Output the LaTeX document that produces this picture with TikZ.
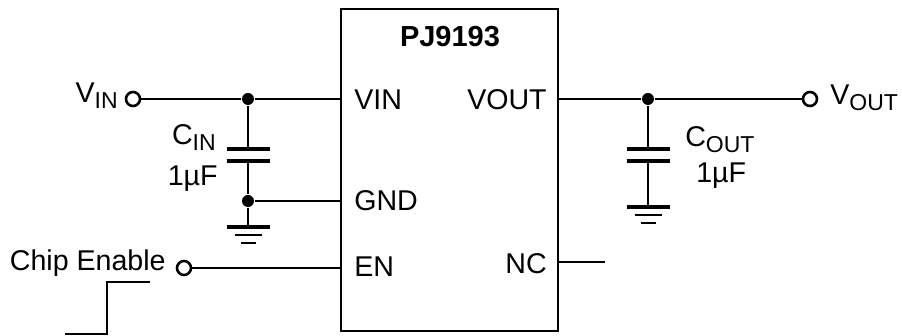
\documentclass[tikz,border=0pt]{standalone}
\usepackage{fontspec}
\setmainfont{Liberation Sans}
\usetikzlibrary{positioning}
\newcommand{\subtxt}[1]{\raisebox{-3pt}{\fontsize{11.5}{12}\selectfont #1}}

\begin{document}
\begin{tikzpicture}[x=0.5pt, y=-0.5pt, line width=1.3pt,
  term/.style={draw, circle, fill=white, inner sep=0pt, minimum size=7pt},
  dot/.style={fill=black, circle, inner sep=0pt, minimum size=6pt},
  lbl/.style={font=\fontsize{14.3}{17}\selectfont, inner sep=0pt},
  plate/.style={line width=1.8pt}]
  \useasboundingbox (0,0) rectangle (902,336);

  % regulator
  \node[draw, minimum width=108.5pt, minimum height=161pt, inner sep=0pt] (chip) at (449.5,170) {};
  \node[lbl, font=\fontsize{14.5}{17}\selectfont\bfseries, anchor=base] (title) at (450,47) {PJ9193};
  \node[lbl, anchor=base west] (tvin) at (353,110) {VIN};
  \node[lbl, anchor=base west] (tgnd) at (353,211) {GND};
  \node[lbl, anchor=base west] (ten) at (353,277) {EN};
  \node[lbl, anchor=base east] (tvout) at (548,110) {VOUT};
  \node[lbl, anchor=base east] (tnc) at (548,274) {NC};

  \coordinate (pvin) at (341,99);
  \coordinate (pgnd) at (341,201);
  \coordinate (pen) at (341,268);
  \coordinate (pvout) at (558,99);
  \coordinate (pnc) at (558,262);
  \coordinate (ncend) at (605,262);

  % input side
  \node[term] (vin) at (133,99) {};
  \node[lbl, anchor=base east] (lvin) at (119,103) {V\subtxt{IN}};
  \node[dot] (jin) at (248,99) {};
  \node[dot] (jgnd) at (248,201) {};
  \coordinate (cin1) at (248,149);
  \coordinate (cin2) at (248,161);
  \coordinate (gin) at (248,227);
  \node[lbl, anchor=base east] (lcin) at (217,145) {C\subtxt{IN}};
  \node[lbl, anchor=base east] (lcinv) at (219,186) {1µF};

  % output side
  \node[term] (vout) at (810,99) {};
  \node[lbl, anchor=base west] (lvout) at (829,105) {V\subtxt{OUT}};
  \node[dot] (jout) at (648,99) {};
  \coordinate (cout1) at (648,149);
  \coordinate (cout2) at (648,161);
  \coordinate (gout) at (648,207);
  \node[lbl, anchor=base west] (lcout) at (684,147) {C\subtxt{OUT}};
  \node[lbl, anchor=base west] (lcoutv) at (695,183) {1µF};

  % enable
  \node[term] (en) at (184,268) {};
  \node[lbl, anchor=base east] (len) at (167,271) {Chip Enable};

  % wires
  \draw (vin) -- (jin) -- (pvin);
  \draw (jin) -- (cin1);
  \draw (cin2) -- (jgnd) -- (gin);
  \draw (jgnd) -- (pgnd);
  \draw (pvout) -- (jout) -- (vout);
  \draw (jout) -- (cout1);
  \draw (cout2) -- (gout);
  \draw (en) -- (pen);
  \draw (pnc) -- (ncend);

  % capacitor plates
  \foreach \c in {cin1, cin2, cout1, cout2}
    \draw[plate] ([xshift=-10.75pt]\c) -- ([xshift=10.75pt]\c);

  % grounds
  \foreach \g in {gin, gout} {
    \draw[plate] ([xshift=-10.75pt]\g) -- ([xshift=10.75pt]\g);
    \draw ([xshift=-6.75pt, yshift=-4pt]\g) -- ([xshift=6.75pt, yshift=-4pt]\g);
    \draw ([xshift=-3.75pt, yshift=-8pt]\g) -- ([xshift=3.75pt, yshift=-8pt]\g);
  }

  % enable step
  \draw (65,334) -- (107,334) -- (107,282) -- (150,282);
\end{tikzpicture}
\end{document}
